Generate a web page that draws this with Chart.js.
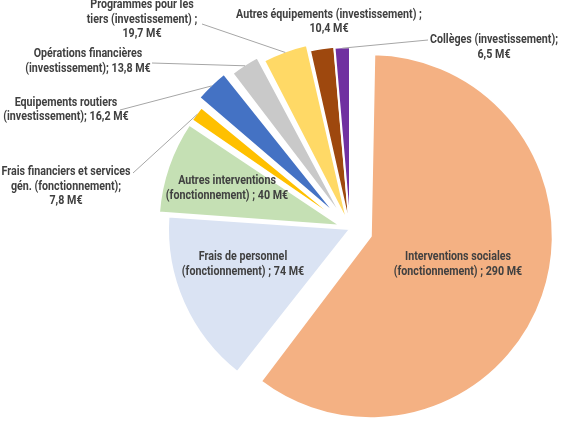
<!DOCTYPE html>
<html>
<head>
<meta charset="utf-8">
<script src="https://cdn.jsdelivr.net/npm/chart.js@4/dist/chart.umd.min.js"></script>
<style>
  html, body { margin: 0; padding: 0; background: #fff; }
</style>
</head>
<body>
<canvas id="budgetPie" width="574" height="425"></canvas>
<script>
// Postes du budget, dans l'ordre des parts (sens horaire depuis midi)
const categories = [
  'Interventions sociales (fonctionnement)',
  'Frais de personnel (fonctionnement)',
  'Autres interventions (fonctionnement)',
  'Frais financiers et services gén. (fonctionnement)',
  'Equipements routiers (investissement)',
  'Opérations financières (investissement)',
  'Programmes pour les tiers (investissement)',
  'Autres équipements (investissement)',
  'Collèges (investissement)'
];

// Montants en M€
const values = [290, 74, 40, 7.8, 16.2, 13.8, 19.7, 10.4, 6.5];

// Texte des étiquettes, ligne par ligne (comme sur le graphique d'origine)
const labelLines = [
  ['Interventions sociales', '(fonctionnement) ; 290 M€'],
  ['Frais de personnel', '(fonctionnement) ; 74 M€'],
  ['Autres interventions', '(fonctionnement) ; 40 M€'],
  ['Frais financiers et services', 'gén. (fonctionnement);', '7,8 M€'],
  ['Equipements routiers', '(investissement); 16,2 M€'],
  ['Opérations financières', '(investissement); 13,8 M€'],
  ['Programmes pour les', 'tiers (investissement) ;', '19,7 M€'],
  ['Autres équipements (investissement) ;', '10,4 M€'],
  ['Collèges (investissement);', '6,5 M€']
];

const COLORS = ['#F4B183', '#DAE3F3', '#C5E0B4', '#FFC000', '#4472C4', '#C9C9C9', '#FFD966', '#9E480E', '#7030A0'];

// Eclatement de chaque part en px (Chart.js divise "offset" par 4 au dessin)
const EXPLODE = [22, 0, 10, 10, 18, 13, 7, 1, 0];

// Position des blocs de texte (centre) et départ des traits de rappel
const LABEL_POS = [
  { x: 458, y: 264.5 },
  { x: 243, y: 264.5 },
  { x: 227, y: 188.5 },
  { x: 66, y: 186.5, lead: [133, 173] },
  { x: 66, y: 110, lead: [120, 110] },
  { x: 88, y: 61.5, lead: [152, 63] },
  { x: 142, y: 19.5, lead: [202, 24] },
  { x: 329, y: 22 },
  { x: 494, y: 47.5, lead: [428, 40] }
];
const LINE_H = 14.5;
const LABEL_FONT = 'bold 12.5px Roboto, "Noto Sans", sans-serif';
// Calibri (police d'origine) est étroite : on ramène la largeur sur une ligne témoin
const WIDTH_REF = { text: 'Frais financiers et services', px: 129 };

// Chart.js agrandit le rayon des parts éclatées : on compense pour garder un rayon unique
const keepRadius = {
  id: 'keepRadius',
  beforeDatasetsDraw(chart) {
    const meta = chart.getDatasetMeta(0);
    const R = meta.controller.outerRadius;
    meta.data.forEach(arc => {
      const shift = (arc.options.offset || 0) / 4;
      const circ = arc.endAngle - arc.startAngle;
      const fix = 1 - Math.sin(Math.min(Math.PI, circ));
      arc.outerRadius = R - shift * fix;
    });
  }
};

// Etiquettes de données + traits de rappel
const sliceLabels = {
  id: 'sliceLabels',
  afterDatasetsDraw(chart) {
    const ctx = chart.ctx;
    const meta = chart.getDatasetMeta(0);
    const R = meta.controller.outerRadius;
    ctx.save();
    meta.data.forEach((arc, i) => {
      const pos = LABEL_POS[i];
      if (!pos.lead) return;
      const mid = (arc.startAngle + arc.endAngle) / 2;
      const shift = (arc.options.offset || 0) / 4;
      const ex = arc.x + Math.cos(mid) * (shift + R - 1);
      const ey = arc.y + Math.sin(mid) * (shift + R - 1);
      ctx.beginPath();
      ctx.moveTo(pos.lead[0], pos.lead[1]);
      ctx.lineTo(ex, ey);
      ctx.strokeStyle = '#A6A6A6';
      ctx.lineWidth = 1;
      ctx.stroke();
    });
    ctx.font = LABEL_FONT;
    ctx.fillStyle = '#404040';
    ctx.textAlign = 'center';
    ctx.textBaseline = 'middle';
    const sx = Math.min(1, WIDTH_REF.px / ctx.measureText(WIDTH_REF.text).width);
    labelLines.forEach((lines, i) => {
      const pos = LABEL_POS[i];
      const top = pos.y - (lines.length - 1) * LINE_H / 2;
      lines.forEach((t, k) => {
        ctx.save();
        ctx.translate(pos.x, top + k * LINE_H);
        ctx.scale(sx, 1);
        ctx.fillText(t, 0, 0);
        ctx.restore();
      });
    });
    ctx.restore();
  }
};

new Chart(document.getElementById('budgetPie'), {
  type: 'pie',
  data: {
    labels: categories,
    datasets: [{
      data: values,
      backgroundColor: COLORS,
      borderColor: '#ffffff',
      borderWidth: 2,
      offset: EXPLODE.map(v => v * 4),
      hoverOffset: 0
    }]
  },
  options: {
    responsive: false,
    animation: false,
    radius: 182,
    layout: { padding: { left: 126, right: 0, top: 33, bottom: 0 } },
    plugins: {
      legend: { display: false },
      tooltip: { enabled: false }
    }
  },
  plugins: [keepRadius, sliceLabels]
});
</script>
</body>
</html>
